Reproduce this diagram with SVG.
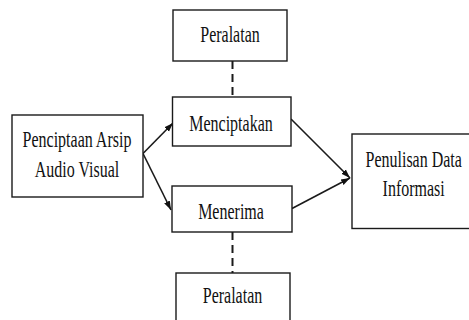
<svg xmlns="http://www.w3.org/2000/svg" width="469" height="320" viewBox="0 0 469 320">
<defs>
<style>
.box{fill:#fff;stroke:#1a1a1a;stroke-width:1.4}
.t{font-family:'Liberation Serif','Times New Roman',serif;font-size:16px;fill:#111;text-anchor:middle}
.ln{stroke:#1a1a1a;stroke-width:1.6;fill:none}
.dash{stroke:#1a1a1a;stroke-width:2;stroke-dasharray:8 5;fill:none}
</style>
<marker id="ah" viewBox="0 0 10 10" refX="10" refY="5" markerWidth="9" markerHeight="9" markerUnits="userSpaceOnUse" orient="auto">
<path d="M0,1.5 L10,5 L0,8.5 Z" fill="#111"/>
</marker>
</defs>
<rect width="469" height="320" fill="#fff"/>
<g id="connectors">
<line class="dash" x1="232.5" y1="61" x2="232.5" y2="97"/>
<line class="dash" x1="232.5" y1="232" x2="232.5" y2="273"/>
<line class="ln" x1="143" y1="153.5" x2="173" y2="123" marker-end="url(#ah)"/>
<line class="ln" x1="143" y1="153.5" x2="171" y2="210" marker-end="url(#ah)"/>
<line class="ln" x1="291" y1="119" x2="350" y2="178" marker-end="url(#ah)"/>
<line class="ln" x1="292" y1="208.5" x2="350" y2="178" marker-end="url(#ah)"/>
</g>
<g id="peralatan-top">
<rect class="box" x="173" y="10" width="114" height="51"/>
<text class="t" transform="translate(230,41.5) scale(1,1.4)">Peralatan</text>
</g>
<g id="menciptakan">
<rect class="box" x="172.5" y="97" width="118.5" height="49"/>
<text class="t" transform="translate(231,131) scale(1,1.4)">Menciptakan</text>
</g>
<g id="penciptaan">
<rect class="box" x="12" y="115" width="131" height="82"/>
<text class="t" transform="translate(77,147) scale(1,1.4)">Penciptaan Arsip</text>
<text class="t" transform="translate(77,176.5) scale(1,1.4)">Audio Visual</text>
</g>
<g id="menerima">
<rect class="box" x="172" y="186" width="120" height="46"/>
<text class="t" transform="translate(231,218.5) scale(1,1.4)">Menerima</text>
</g>
<g id="peralatan-bottom">
<rect class="box" x="176" y="273" width="114" height="60"/>
<text class="t" transform="translate(232.5,303) scale(1,1.4)">Peralatan</text>
</g>
<g id="penulisan">
<rect class="box" x="352" y="134" width="124" height="94.5"/>
<text class="t" transform="translate(413.7,166.7) scale(1,1.4)">Penulisan Data</text>
<text class="t" transform="translate(413.7,196) scale(1,1.4)">Informasi</text>
</g>
</svg>
